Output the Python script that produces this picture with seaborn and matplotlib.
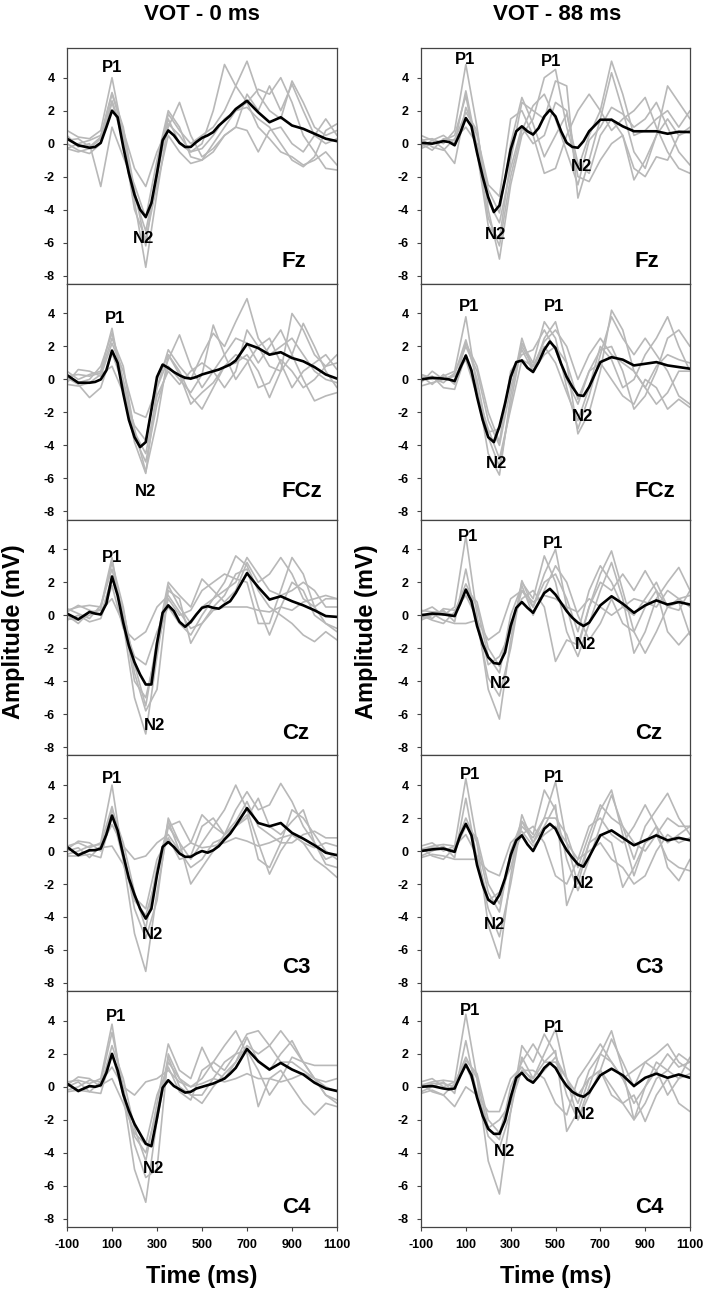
import numpy as np
import pandas as pd
import seaborn as sns
import matplotlib
matplotlib.use('Agg')
import matplotlib.pyplot as plt

# time grids (ms): grand average is read finer than single subjects
T = [-100, -50, 0, 25, 50, 75, 100, 125, 150, 175, 200, 225, 250, 275, 300, 325, 350, 375, 400,
     425, 450, 475, 500, 525, 550, 575, 600, 625, 650, 700, 750, 800, 850, 900, 950, 1000, 1050, 1100]
TG = [-100, -50, 0, 50, 100, 150, 200, 250, 300, 350, 400, 450, 500, 550, 600, 650, 700, 750,
      800, 850, 900, 950, 1000, 1050, 1100]

electrodes = ['Fz', 'FCz', 'Cz', 'C3', 'C4']
conditions = ['VOT - 0 ms', 'VOT - 88 ms']

# grand averages, VOT 0 ms
fz_0 = [0.3, -0.1, -0.25, -0.2, 0.05, 1.0, 2.0, 1.6, -0.2, -1.8, -3.1, -4.0, -4.45, -3.6, -1.8, 0.2, 0.8, 0.5, 0.05,
        -0.2, -0.2, 0.1, 0.35, 0.5, 0.7, 1.1, 1.4, 1.7, 2.1, 2.6, 1.9, 1.3, 1.6, 1.1, 0.9, 0.6, 0.3, 0.15]
fcz_0 = [0.26, -0.2, -0.2, -0.15, 0.0, 0.55, 1.75, 1.0, -0.85, -2.45, -3.5, -4.1, -3.8, -1.85, 0.15, 0.9, 0.7, 0.45, 0.25,
         0.1, 0.05, 0.15, 0.3, 0.4, 0.5, 0.6, 0.75, 0.9, 1.15, 2.15, 1.9, 1.5, 1.65, 1.3, 1.1, 0.75, 0.3, 0.05]
cz_0 = [0.1, -0.25, 0.2, 0.1, 0.05, 0.7, 2.35, 1.2, -0.45, -1.85, -2.85, -3.6, -4.2, -4.2, -1.7, 0.15, 0.6, 0.25, -0.4,
        -0.7, -0.4, 0.05, 0.45, 0.55, 0.45, 0.4, 0.65, 0.85, 1.35, 2.55, 1.7, 0.95, 1.15, 0.85, 0.6, 0.3, -0.05, -0.1]
c3_0 = [0.25, -0.25, 0.05, 0.05, 0.15, 1.0, 2.15, 1.25, -0.25, -1.65, -2.65, -3.5, -4.1, -3.5, -1.45, 0.25, 0.55, 0.25, -0.15,
        -0.35, -0.35, -0.15, 0.0, -0.1, 0.05, 0.3, 0.7, 1.05, 1.55, 2.6, 1.7, 1.5, 1.7, 1.1, 0.75, 0.35, -0.1, -0.25]
c4_0 = [0.2, -0.25, 0.05, 0.0, 0.1, 0.85, 2.0, 1.0, -0.45, -1.45, -2.25, -2.85, -3.45, -3.6, -1.9, -0.05, 0.4, 0.05, -0.15,
        -0.35, -0.3, -0.1, 0.0, 0.1, 0.2, 0.35, 0.5, 0.8, 1.15, 2.3, 1.55, 1.05, 1.45, 1.05, 0.75, 0.25, -0.1, -0.25]

# grand averages, VOT 88 ms
fz_88 = [0.05, 0.0, 0.15, 0.1, -0.1, 0.65, 1.55, 1.05, -0.55, -2.0, -3.25, -4.15, -3.75, -2.15, -0.35, 0.75, 1.05, 0.75, 0.55,
         0.95, 1.65, 2.05, 1.65, 0.75, 0.05, -0.2, -0.25, 0.15, 0.75, 1.45, 1.45, 1.05, 0.75, 0.75, 0.75, 0.6, 0.72, 0.7]
fcz_88 = [0.0, 0.1, 0.05, 0.0, -0.1, 0.7, 1.45, 0.55, -1.05, -2.45, -3.5, -3.8, -2.85, -1.45, 0.15, 1.05, 1.15, 0.7, 0.45,
          1.05, 1.8, 2.3, 1.9, 0.95, 0.15, -0.45, -0.95, -1.0, -0.45, 1.05, 1.35, 1.2, 0.85, 0.95, 1.05, 0.85, 0.75, 0.65]
cz_88 = [0.0, 0.1, 0.05, 0.0, -0.05, 0.7, 1.55, 0.85, -0.65, -1.75, -2.55, -2.9, -2.95, -2.25, -0.65, 0.45, 0.8, 0.45, 0.15,
         0.75, 1.35, 1.6, 1.25, 0.75, 0.25, -0.15, -0.45, -0.65, -0.45, 0.6, 1.15, 0.7, 0.15, 0.6, 0.9, 0.65, 0.8, 0.65]
c3_88 = [0.0, 0.1, 0.15, 0.05, -0.05, 0.95, 1.65, 0.95, -0.85, -2.05, -2.95, -3.2, -2.65, -1.65, -0.25, 0.65, 0.95, 0.4, 0.0,
         0.65, 1.35, 1.65, 1.35, 0.65, 0.05, -0.4, -0.8, -0.95, -0.35, 0.95, 1.25, 0.8, 0.35, 0.65, 0.95, 0.65, 0.8, 0.65]
c4_88 = [0.0, 0.05, -0.1, -0.15, -0.1, 0.65, 1.35, 0.7, -0.65, -1.75, -2.55, -2.85, -2.85, -2.05, -0.65, 0.55, 0.85, 0.45, 0.25,
         0.65, 1.15, 1.45, 1.15, 0.55, 0.05, -0.3, -0.5, -0.6, -0.35, 0.7, 1.1, 0.7, 0.05, 0.55, 0.8, 0.55, 0.75, 0.55]

# single subjects, VOT 0 ms
fz_0_subj = [
    [0.8, 0.4, 0.3, 0.8, 4.0, 0.5, -3.5, -7.5, -3.0, 1.2, 0.5, -0.5, 0.0, 2.0, 4.8, 3.5, 2.5, 1.0, 0.3, -0.5, -0.8, -1.3, -1.0, -0.5, -1.3],
    [-0.3, 0.0, 0.2, 0.5, 3.1, 1.0, -2.8, -6.2, -1.5, 1.8, 0.8, 0.0, 0.5, 1.0, 2.0, 3.5, 5.0, 3.0, 2.0, 1.5, 3.8, 2.5, 1.0, 0.5, 0.8],
    [0.5, -0.2, 0.0, -2.6, 1.0, -0.8, -2.5, -4.5, -1.0, 2.0, 1.0, -0.8, -1.0, 0.0, 1.0, 2.0, 2.5, 3.3, 3.0, 4.0, 2.5, 0.5, -0.5, -1.5, -1.6],
    [-0.3, -0.5, -0.3, 0.3, 2.6, 0.6, -3.2, -5.3, -2.0, 1.5, 0.0, -0.5, -0.3, 0.5, 1.5, 2.0, 2.2, 1.5, 1.0, 0.0, -1.0, -1.4, -0.8, 0.8, 1.2],
    [0.2, 0.3, -0.2, 0.4, 3.0, 0.8, -1.5, -2.6, -0.5, 1.0, 2.5, 0.5, -0.8, -0.3, 0.5, 1.0, 3.0, 2.0, 3.5, 2.0, 3.6, 2.0, 0.5, 0.0, 0.3],
    [0.0, -0.4, -0.6, 0.0, 2.5, 0.2, -4.0, -5.8, -2.5, 0.5, -0.5, -1.2, -1.0, -0.5, 0.5, 1.0, 0.8, -0.5, 0.8, 1.0, 0.0, -0.5, 0.5, 1.5, 0.5],
]
fcz_0_subj = [
    [0.5, 0.0, 0.3, 0.5, 3.1, -0.5, -3.8, -5.7, -0.5, 1.8, 0.8, 0.0, 1.5, 2.8, 2.0, 3.5, 4.9, 2.5, 1.5, 2.0, 2.5, 1.5, 0.5, 0.0, -0.2],
    [0.3, -0.2, 0.0, 0.8, 2.8, 0.0, -3.0, -5.6, -2.5, 1.5, 0.5, -1.0, -1.8, -0.5, 0.8, 1.0, 1.5, 0.5, -1.1, 0.5, 4.0, 3.0, 1.5, 0.8, 1.0],
    [-0.2, 0.6, 0.5, 0.2, 2.2, 0.5, -2.0, -2.3, -0.5, 1.2, 2.7, 0.8, -0.5, 0.5, 1.5, 2.5, 2.2, 1.0, 2.0, 3.0, 1.5, 0.0, -1.3, -1.0, -0.8],
    [0.1, -0.3, -1.1, -0.5, 1.6, -0.3, -3.5, -5.0, -1.5, 0.8, 0.0, -0.8, 0.3, 3.3, 1.5, 0.0, 1.0, 2.0, 2.5, 1.0, -0.5, 0.5, 1.0, 1.5, 0.6],
    [0.2, 0.3, 0.2, 0.4, 2.5, 0.8, -3.2, -4.5, -1.0, 0.5, -0.3, 0.5, 1.0, 0.5, -0.5, 0.5, 3.0, 2.0, 0.8, 0.5, 1.5, 3.4, 2.0, 0.5, -0.5],
    [-0.3, -0.4, -0.2, 0.3, 0.8, -0.8, -2.8, -3.7, 0.0, 1.5, 0.3, -1.5, -0.8, -0.2, 0.8, 1.5, 1.2, -0.5, -0.2, 1.2, 0.5, -0.5, 0.0, 0.8, 1.5],
]
cz_0_subj = [
    [0.3, 0.5, 0.6, 0.5, 3.5, -0.5, -5.0, -7.2, -2.5, 1.8, 0.5, -0.5, 0.5, 1.0, 2.0, 3.6, 3.0, 1.5, 0.5, 0.0, -0.5, -1.2, -1.6, -1.0, -1.5],
    [-0.2, -0.3, 0.0, 0.4, 3.2, 0.5, -3.5, -5.8, -4.5, 1.5, 1.0, -1.7, -0.5, 0.5, 1.2, 2.5, 2.8, 0.5, -1.2, 0.5, 2.0, 1.5, 0.0, -0.5, -1.0],
    [0.2, 0.6, 0.3, 0.0, 2.3, 0.3, -3.0, -5.5, -1.5, 2.0, 1.2, 0.5, 2.2, 1.5, 0.8, 1.5, 3.2, 2.0, 2.5, 3.5, 2.5, 1.0, 0.5, 1.0, 1.0],
    [-0.3, 0.0, -0.4, -0.2, 1.8, -0.8, -1.5, -1.0, 0.5, 1.2, 0.2, -0.8, -0.5, 0.3, 0.5, 0.5, 0.5, 0.3, 0.2, 0.5, 0.3, 0.8, 1.0, 1.2, 1.0],
    [0.0, -0.5, 0.2, 0.3, 1.0, -0.5, -2.5, -3.0, -1.0, 0.5, -0.5, -1.2, 0.0, 1.0, 1.5, 2.0, 3.5, 2.5, 1.5, 1.2, 1.5, 2.0, 1.5, 0.5, 0.5],
    [0.4, 0.1, -0.2, 0.6, 2.8, 0.0, -4.0, -5.0, -2.0, 1.0, 0.0, 0.3, 1.5, 2.0, 2.5, 2.2, 2.0, -0.5, -0.5, 1.5, 3.5, 2.5, 0.5, -0.5, -0.8],
]
c3_0_subj = [
    [0.3, 0.5, 0.2, 0.5, 4.0, -0.5, -5.0, -7.3, -2.5, 1.5, 0.5, -0.5, 0.5, 1.5, 2.5, 4.0, 2.5, 0.5, -1.4, 0.0, 1.0, 0.5, -0.5, -1.0, -1.6],
    [-0.2, 0.0, 0.3, 0.4, 2.7, 0.0, -3.5, -5.3, -3.0, 2.0, 0.5, -2.0, -1.0, 0.0, 1.0, 2.5, 3.6, 2.5, 2.8, 4.1, 3.0, 1.5, 0.5, -0.5, -0.2],
    [0.1, 0.6, 0.5, 0.0, 2.5, 0.5, -2.5, -4.7, -1.0, 1.5, 1.8, 0.5, 2.2, 1.5, 1.0, 1.8, 3.0, 1.5, 1.0, 0.5, 0.5, 1.0, 1.2, 0.8, 0.8],
    [-0.3, -0.3, -0.2, -0.4, 2.2, -0.5, -3.0, -3.9, -1.5, 1.8, 0.0, -1.0, -0.5, 0.5, 0.8, 1.5, 2.0, 3.2, 1.5, 1.0, 1.8, 2.5, 0.5, -0.8, -1.0],
    [0.0, 0.2, -0.4, 0.3, 1.6, 0.3, -0.5, -0.3, 0.5, 1.0, 0.0, 0.5, 0.2, 0.3, 0.5, 0.8, 0.6, 0.3, 0.5, 0.8, 1.0, 0.5, 0.2, 0.5, 0.3],
    [0.2, -0.2, 0.0, 0.2, 0.3, -0.8, -2.8, -3.5, -0.5, 0.8, -0.5, -0.3, 1.5, 2.0, 1.0, 1.5, 2.2, -0.5, -1.0, 0.5, 2.5, 2.0, 1.0, 0.0, -0.5],
]
c4_0_subj = [
    [0.3, 0.4, 0.2, 0.5, 3.8, -0.5, -5.0, -7.0, -2.0, 1.5, 0.5, 0.0, 0.5, 1.5, 2.5, 3.4, 2.0, -1.2, 0.5, 1.0, 0.0, -1.0, -1.7, -1.0, -1.2],
    [-0.2, 0.0, 0.4, 0.3, 3.3, 0.0, -3.5, -5.5, -5.0, 2.0, 0.5, -0.5, -0.5, 0.5, 1.5, 2.0, 3.2, 3.4, 2.5, 1.5, 1.5, 1.0, 0.5, -0.5, -0.8],
    [0.1, 0.6, 0.5, 0.0, 2.5, 0.5, -2.5, -4.5, -1.0, 2.6, 1.0, 0.5, 2.4, 1.0, 0.5, 1.5, 2.5, 2.0, 2.5, 3.4, 2.5, 1.5, 1.3, 1.3, 1.3],
    [-0.3, -0.2, -0.3, -0.4, 2.0, -0.5, -3.0, -4.0, -1.5, 1.8, 0.0, -0.5, -1.0, 0.0, 0.8, 1.5, 3.0, 1.5, 1.0, 2.0, 2.8, 1.5, 0.5, -0.5, -1.0],
    [0.0, 0.3, -0.3, 0.3, 1.2, 0.0, -0.5, 0.3, 0.5, 1.0, 0.3, 0.0, 0.2, 0.5, 0.3, 0.5, 0.8, 0.5, 0.5, 0.3, 0.5, 0.8, 0.5, 0.3, 0.5],
    [0.2, -0.3, 0.0, 0.1, 0.5, -1.0, -2.8, -3.5, -0.5, 1.2, -0.3, -0.8, 1.0, 1.5, 1.0, 2.0, 2.2, 1.0, -0.5, 0.5, 1.8, 1.5, 0.5, 0.0, -0.3],
]

# single subjects, VOT 88 ms
fz_88_subj = [
    [0.2, 0.3, 0.0, 0.8, 4.8, 1.0, -4.0, -7.0, -2.5, 0.5, 1.5, 4.0, 4.5, 1.0, -1.5, 0.5, 2.0, 5.0, 3.0, 0.5, 0.8, 1.5, 2.0, 1.0, 2.0],
    [-0.3, 0.0, 0.2, 0.5, 2.9, -0.5, -5.0, -5.8, -1.0, 2.5, 2.0, 1.5, 3.8, 3.5, -3.3, -1.0, 1.5, 4.3, 2.0, -0.5, -1.5, 0.5, 1.5, 0.5, 1.0],
    [0.5, 0.2, -0.3, -1.2, 2.2, 0.5, -2.5, -3.2, 1.5, 2.0, 0.5, -1.8, -1.5, 0.5, 2.0, 3.0, 2.0, 0.8, 1.5, 2.0, 2.8, 1.0, -0.5, -1.5, -1.8],
    [0.0, -0.4, 0.3, 0.2, 1.9, 0.8, -3.5, -4.8, -1.5, 1.0, 0.0, 0.5, 2.5, 2.0, -2.0, -2.3, -1.0, 0.0, 0.5, -2.2, -1.0, 0.5, 3.5, 2.5, 1.5],
    [-0.2, 0.2, 0.5, 0.0, 3.2, -0.2, -4.5, -6.2, -2.0, 0.8, 2.3, 3.0, 1.5, -0.5, -2.5, 0.2, 1.0, 2.2, 1.8, 1.0, 1.5, 2.5, 1.0, -0.5, -1.3],
    [0.3, -0.2, -0.4, 0.3, 1.0, 0.0, -2.8, -4.2, 0.0, 2.8, 1.2, -0.8, 0.5, 1.8, -1.2, -1.8, 0.5, 1.5, 0.5, -1.5, -2.0, -0.8, -1.0, 0.5, 0.8],
]
fcz_88_subj = [
    [0.3, 0.0, 0.2, 0.5, 3.8, -0.5, -4.5, -5.8, -1.0, 2.5, 0.5, 2.5, 3.5, 1.0, -3.3, -2.0, 0.5, 4.2, 3.0, 0.5, -0.5, 0.8, 1.5, 1.2, 1.0],
    [-0.2, 0.5, 0.0, 0.3, 2.4, 0.0, -3.5, -5.3, -1.5, 2.2, 1.0, 3.5, 2.5, -0.5, -3.0, -1.0, 1.5, 3.8, 2.5, 1.5, 2.5, 1.5, 0.5, -1.0, -1.5],
    [0.2, -0.3, 0.3, -0.3, 2.2, 0.8, -2.0, -3.8, 0.5, 1.5, 1.8, 3.0, 1.8, 0.0, -1.5, 0.5, 1.8, 2.0, 0.5, -1.8, -1.0, 0.5, 2.5, 3.0, 2.0],
    [0.0, 0.2, -0.5, -0.6, 1.5, -0.8, -3.0, -4.8, -1.8, 1.2, 0.8, 2.0, 1.0, -0.8, -2.5, -0.5, 2.0, 1.2, -0.5, 0.0, 1.5, 2.5, 3.8, 2.0, 0.5],
    [-0.4, -0.2, 0.0, 0.2, 1.2, -1.0, -3.2, -3.0, 0.0, 1.8, 0.5, 1.5, 2.0, 1.0, -1.2, 0.5, 1.0, 0.0, -1.0, -1.5, 0.0, -0.5, -1.8, -1.2, -1.7],
    [0.3, 0.1, -0.2, 0.4, 2.0, 0.5, -2.5, -4.0, -0.5, 2.0, 0.8, 2.3, 3.0, 2.0, 0.0, 1.5, 2.5, 1.5, 1.0, 0.5, -0.5, -1.5, -0.8, 0.5, 0.5],
]
cz_88_subj = [
    [0.2, 0.5, 0.0, 0.5, 4.8, 0.0, -4.5, -6.3, -1.5, 2.1, 0.5, 2.5, 4.0, 0.5, -2.0, 0.5, 2.5, 3.9, 1.5, -1.0, 0.5, 1.5, 0.5, 1.0, 1.2],
    [-0.3, 0.0, 0.3, -0.4, 2.8, -0.5, -3.8, -4.9, -2.0, 2.0, 1.0, 3.6, 2.0, -1.0, -2.5, -0.5, 1.5, 3.2, 1.0, -2.3, -1.0, 1.0, 2.0, 2.9, 1.5],
    [0.0, -0.3, -0.5, 0.2, 1.9, 0.5, -2.5, -3.5, 0.0, 1.8, 0.0, 1.5, 3.0, 2.0, 0.0, -1.5, -0.5, 1.0, -0.5, -1.0, -2.3, -1.0, 0.5, 0.8, -1.2],
    [0.3, 0.2, 0.2, 0.0, 1.6, 0.8, -2.0, -3.1, -0.5, 1.0, 1.5, 0.5, -2.8, -1.5, -1.8, 0.5, 2.0, 1.5, 2.5, 1.5, 2.7, 1.5, -1.0, -1.8, -1.0],
    [-0.2, 0.1, -0.3, -0.5, -0.5, -0.3, -1.5, -1.0, 1.0, 1.5, 0.8, 1.2, 1.0, 0.5, 0.2, 1.0, 0.5, 0.0, 0.5, 1.0, 0.8, 0.5, 1.5, 1.0, 0.5],
    [0.1, -0.2, 0.4, 0.3, 1.2, -0.2, -3.0, -2.5, -1.0, 1.5, 0.5, 2.0, 2.5, 1.0, -1.0, 1.5, 3.0, 2.0, 0.5, 0.0, 1.0, 2.0, 0.5, 0.3, 1.5],
]
c3_88_subj = [
    [0.3, 0.5, 0.0, 0.3, 4.4, 0.5, -4.5, -6.5, -1.5, 2.2, 0.5, 2.0, 4.2, 0.5, -2.0, 0.5, 2.5, 3.7, 1.0, -1.5, 0.5, 1.5, 0.5, 1.0, 1.5],
    [-0.3, 0.0, 0.3, -0.4, 3.2, -0.5, -3.5, -5.2, -2.0, 1.8, 1.0, 3.7, 2.5, -0.5, -2.4, -0.5, 1.5, 3.4, 1.5, -0.5, 1.5, 2.5, 3.5, 2.0, 1.0],
    [0.2, -0.3, -0.5, 0.2, 2.0, 0.5, -2.5, -3.7, 0.0, 1.8, 0.5, 1.5, 2.8, -3.3, -1.5, 0.5, 1.0, 0.5, -2.2, -1.0, 0.5, 1.0, -0.5, -1.0, -1.2],
    [0.0, 0.2, 0.2, 0.0, 1.5, 0.8, -2.0, -3.2, -0.5, 1.0, 1.5, 0.5, -1.5, -2.0, -0.5, 1.5, 2.0, 1.0, 0.5, 1.5, 2.8, 1.5, -1.0, -1.8, -0.5],
    [-0.4, -0.2, -0.3, -0.5, -0.5, -0.5, -1.2, -1.5, 0.5, 1.2, 0.3, 1.0, 1.5, 0.5, -0.5, 0.0, 0.5, -0.5, -1.0, -2.0, -1.5, 0.0, 1.0, 0.5, 0.8],
    [0.1, 0.3, 0.4, 0.3, 1.0, -0.3, -3.0, -2.5, -1.0, 1.5, 0.8, 2.0, 2.0, 1.0, -1.0, 1.0, 2.8, 2.0, 1.5, 0.5, 0.0, 1.0, 2.0, 1.5, 1.5],
]
c4_88_subj = [
    [0.3, 0.5, 0.0, 0.3, 4.4, 0.5, -4.5, -6.5, -1.5, 1.8, 0.5, 2.0, 3.5, 0.5, -2.0, 0.0, 2.0, 3.4, 1.0, -2.0, 0.0, 1.5, 1.0, 2.0, 1.5],
    [-0.3, 0.0, 0.3, -0.4, 2.8, -0.5, -3.0, -3.7, -1.5, 2.5, 1.5, 3.2, 2.0, -0.5, -2.0, -0.5, 1.0, 2.9, 1.5, 0.0, 1.5, 2.0, 2.6, 1.5, 1.0],
    [0.2, -0.3, -0.5, 0.2, 1.8, 0.5, -2.5, -3.2, 0.0, 1.5, 2.6, 1.5, 2.2, -2.7, -1.5, 0.5, 1.0, 0.0, -1.0, -0.5, -2.1, -0.5, 0.5, -1.0, -1.5],
    [0.0, 0.2, 0.2, 0.0, 1.6, 0.8, -2.0, -2.8, -0.5, 1.0, 1.0, 0.5, -1.0, -1.7, 0.5, 1.5, 2.6, 1.5, 0.5, 1.0, 1.5, 1.0, -0.5, 0.5, 1.8],
    [-0.4, -0.2, -0.5, -1.2, 0.0, -0.5, -1.5, -1.5, 0.5, 1.2, 0.3, 1.0, 1.8, 0.5, -0.5, 0.5, 1.0, -0.5, -1.0, -2.0, -1.0, 0.5, 1.0, 0.5, 0.8],
    [0.1, 0.3, 0.4, 0.3, 1.3, -0.3, -2.5, -2.0, -1.0, 1.0, 0.5, 1.5, 1.5, 0.5, -1.0, 1.0, 2.0, 1.5, 0.5, -1.0, 0.0, 1.0, 2.0, 1.2, 1.5],
]

means = [[fz_0, fcz_0, cz_0, c3_0, c4_0], [fz_88, fcz_88, cz_88, c3_88, c4_88]]
subjects = [[fz_0_subj, fcz_0_subj, cz_0_subj, c3_0_subj, c4_0_subj],
            [fz_88_subj, fcz_88_subj, cz_88_subj, c3_88_subj, c4_88_subj]]

# component labels (time, amplitude) per column and row
p1_pos = [[[(100, 4.35)], [(113, 3.4)], [(102, 3.25)], [(102, 4.15)], [(117, 4.0)]],
          [[(96, 4.8), (479, 4.7)], [(113, 4.15), (495, 4.15)], [(110, 4.5), (489, 4.05)],
           [(120, 4.35), (492, 4.2)], [(120, 4.35), (492, 3.35)]]]
n2_pos = [[[(238, -6.0)], [(247, -7.05)], [(287, -6.95)], [(279, -5.35)], [(284, -5.2)]],
          [[(232, -5.8), (615, -1.65)], [(239, -5.35), (619, -2.55)], [(254, -4.4), (634, -2.05)],
           [(229, -4.7), (623, -2.25)], [(274, -4.2), (629, -1.95)]]]
name_y = [0.073, 0.097, 0.07, 0.076, 0.06]

sns.set_style('ticks')
plt.rcParams['font.family'] = ['Liberation Sans', 'DejaVu Sans']
plt.rcParams['font.weight'] = 'bold'
plt.rcParams['text.color'] = 'black'
plt.rcParams['xtick.color'] = 'black'
plt.rcParams['ytick.color'] = 'black'
plt.rcParams['axes.unicode_minus'] = False

W, H = 711, 1300
fig = plt.figure(figsize=(W / 100, H / 100), dpi=100)
col_x = [(67, 337), (421, 690)]
top0, row_h = 48, 235.8

for c in range(2):
    x0, x1 = col_x[c]
    for r, name in enumerate(electrodes):
        ax = fig.add_axes([x0 / W, 1 - (top0 + (r + 1) * row_h) / H, (x1 - x0) / W, row_h / H])
        subj = subjects[c][r]
        gdf = pd.DataFrame({'time': TG * len(subj),
                            'amp': [v for s in subj for v in s],
                            'subj': np.repeat(np.arange(len(subj)), len(TG))})
        sns.lineplot(data=gdf, x='time', y='amp', units='subj', estimator=None,
                     color='#b8b8b8', lw=1.2, ax=ax, legend=False)
        sns.lineplot(x=T, y=means[c][r], color='black', lw=1.9, ax=ax)
        ax.set_xlim(-100, 1100)
        ax.set_ylim(-8.5, 5.8)
        ax.set_yticks([-8, -6, -4, -2, 0, 2, 4])
        ax.set_xticks([-100, 100, 300, 500, 700, 900, 1100])
        ax.set_xlabel('')
        ax.set_ylabel('')
        for s in ax.spines.values():
            s.set_color('#444444')
            s.set_linewidth(0.9)
        ax.tick_params(axis='y', direction='out', length=3, width=0.8, pad=6,
                       labelsize=9, color='#444444', labelcolor='black')
        if r == len(electrodes) - 1:
            ax.tick_params(axis='x', direction='out', length=3, width=0.8, pad=6,
                           labelsize=9, color='#444444', labelcolor='black')
        else:
            ax.tick_params(axis='x', length=0, labelbottom=False)
        for lab in ax.get_xticklabels() + ax.get_yticklabels():
            lab.set_fontweight('bold')
        ax.text(0.795, name_y[r], name, transform=ax.transAxes, ha='left', va='baseline',
                fontsize=16, fontweight='bold', color='black')
        for (tx, ty) in p1_pos[c][r]:
            ax.text(tx, ty, 'P1', ha='center', va='baseline', fontsize=12, fontweight='bold', color='black')
        for (tx, ty) in n2_pos[c][r]:
            ax.text(tx, ty, 'N2', ha='center', va='baseline', fontsize=12, fontweight='bold', color='black')

    cx = (x0 + x1) / 2
    fig.text((cx + 2 if c == 1 else cx) / W, 1 - 14 / H, conditions[c], ha='center', va='center',
             fontsize=16, fontweight='bold', color='black')
    fig.text(cx / W, 1 - 1276 / H, 'Time (ms)', ha='center', va='center',
             fontsize=17, fontweight='bold', color='black')
    fig.text((14 if c == 0 else 366) / W, 1 - 632 / H, 'Amplitude (mV)', rotation=90,
             ha='center', va='center', fontsize=17, fontweight='bold', color='black')

fig.savefig('out.png', dpi=100, facecolor='white')
